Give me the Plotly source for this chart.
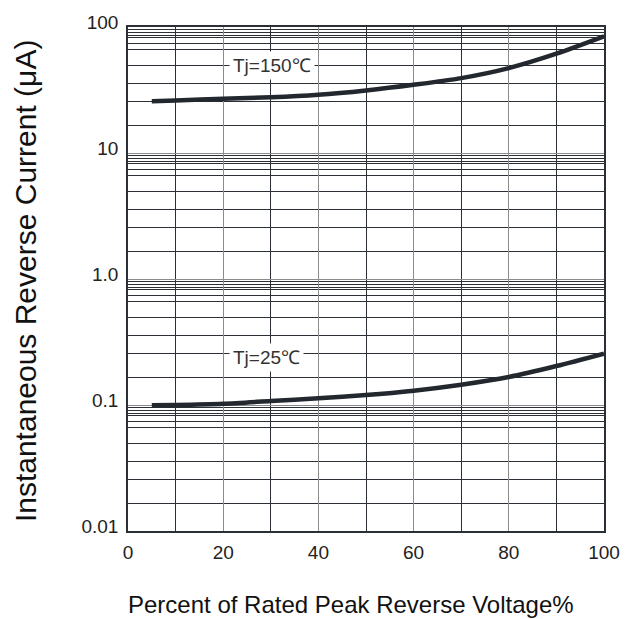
import math
import plotly.graph_objects as go

# ---- data ----
voltage_pct = [5, 10, 20, 30, 40, 50, 60, 70, 80, 90, 100]
current_150 = [25.8, 26.1, 27.0, 27.7, 29.0, 31.4, 34.8, 39.3, 47.2, 61.4, 84.3]
current_25 = [0.0994, 0.100, 0.1023, 0.1075, 0.113, 0.120, 0.130, 0.145, 0.167, 0.204, 0.256]

y_tick_vals = [0.01, 0.1, 1, 10, 100]
y_tick_text = ["0.01", "0.1", "1.0", "10", "100"]
x_tick_vals = [0, 20, 40, 60, 80, 100]
x_minor_vals = [10, 30, 50, 70, 90]
# the datasheet's own (irregular) horizontal grid, as multiples of each decade
decade_grid_mult = [9.55, 9.12, 8.63, 8.24, 7.38, 6.62, 4.94, 3.59, 2.58, 1.66]
decades = [0.01, 0.1, 1, 10]
y_minor_vals = [d * m for d in decades for m in decade_grid_mult]

labels = ["Tj=150℃", "Tj=25℃"]
label_x = [30.2, 29.1]
label_y = [49.6, 0.2377]

FONT = "Arial"
DARK = "#2b2f36"

fig = go.Figure()
for ys in (current_150, current_25):
    fig.add_trace(go.Scatter(x=voltage_pct, y=ys, mode="lines",
                             line=dict(color="#23272e", width=4.5, shape="spline", smoothing=0.8),
                             showlegend=False, hoverinfo="skip"))

for t, lx, ly in zip(labels, label_x, label_y):
    fig.add_annotation(x=lx, y=math.log10(ly), xref="x", yref="y",
                       text=t, showarrow=False, bgcolor="white",
                       font=dict(family=FONT, size=19, color="#333"),
                       borderpad=3)

fig.update_xaxes(range=[0, 100], tickmode="array", tickvals=x_tick_vals,
                 showgrid=True, gridcolor="#8c8c8c", gridwidth=1.3,
                 minor=dict(tickmode="array", tickvals=x_minor_vals,
                            showgrid=True, gridcolor=DARK, gridwidth=1.2),
                 showline=True, linecolor=DARK, linewidth=1.5, mirror=True,
                 ticks="", ticklabelstandoff=3, zeroline=False,
                 tickfont=dict(family=FONT, size=19, color="#222"))
fig.update_yaxes(type="log", range=[-2, 2], tickmode="array",
                 tickvals=y_tick_vals, ticktext=y_tick_text,
                 showgrid=True, gridcolor="#8c8c8c", gridwidth=1.3,
                 minor=dict(tickmode="array", tickvals=y_minor_vals,
                            showgrid=True, gridcolor=DARK, gridwidth=1.2),
                 showline=True, linecolor=DARK, linewidth=1.5, mirror=True,
                 ticks="", ticklabelstandoff=4, ticklabelshift=-5, zeroline=False,
                 tickfont=dict(family=FONT, size=19, color="#222"))

fig.add_annotation(text="Percent of Rated Peak Reverse Voltage%", xref="paper", yref="paper",
                   x=(351 - 128) / (604.5 - 128), y=-(604 - 531) / (531 - 27),
                   showarrow=False, xanchor="center", yanchor="middle",
                   font=dict(family=FONT, size=24, color="#111"))
fig.add_annotation(text="Instantaneous Reverse Current (μA)", xref="paper", yref="paper",
                   x=-(128 - 25) / (604.5 - 128), y=(531 - 281) / (531 - 27),
                   showarrow=False, xanchor="center", yanchor="middle", textangle=-90,
                   font=dict(family=FONT, size=30, color="#111"))

fig.update_layout(width=641, height=619,
                  margin=dict(l=128, r=641 - 604.5, t=27, b=619 - 531),
                  paper_bgcolor="white", plot_bgcolor="white",
                  font=dict(family=FONT))

fig.write_html("out.html")
